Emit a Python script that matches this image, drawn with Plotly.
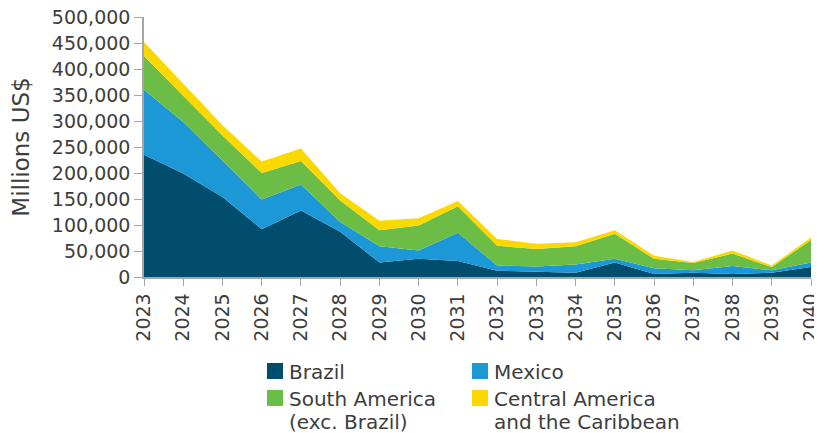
import plotly.graph_objects as go

years = list(range(2023, 2041))

brazil = [235000, 199000, 154000, 92000, 128000, 87000, 28000, 35000, 31000,
          12000, 10000, 8000, 28000, 6000, 8000, 6000, 8000, 19000]
mexico = [125000, 99000, 70000, 57000, 50000, 19000, 31000, 16000, 54000,
          10000, 10000, 16000, 7000, 11000, 5000, 15000, 5000, 9000]
south_america = [65000, 51000, 48000, 51000, 45000, 41000, 31000, 48000, 51000,
                 38000, 34000, 35000, 48000, 18000, 14000, 24000, 6000, 43000]
central_america = [27000, 22000, 20000, 22000, 24000, 14000, 18000, 14000, 10000,
                   13000, 10000, 8000, 7000, 6000, 2000, 6000, 3000, 5000]

names = ["Brazil", "Mexico", "South America<br>(exc. Brazil)",
         "Central America<br>and the Caribbean"]
colors = ["#004d6d", "#1b98d5", "#6cbd45", "#fad800"]
values = [brazil, mexico, south_america, central_america]

fig = go.Figure()
for name, vals, color in zip(names, values, colors):
    fig.add_trace(go.Scatter(
        x=years, y=vals, name=name,
        mode="lines", stackgroup="one",
        line=dict(width=0, color=color),
        fillcolor=color,
        showlegend=False,
    ))

# page body has an 8px margin, so the figure is drawn 8px smaller
OFF = 8
W, H = 822 - OFF, 433 - OFF
L, R, T, B = 144 - OFF, 11, 17 - OFF, 156
pw, ph = W - L - R, H - T - B


def px(x):
    return (x - OFF - L) / pw


def py(y):
    return (H - B - (y - OFF)) / ph


font_color = "#3d3d3d"
# hand-placed legend in a 2x2 grid below the chart (page pixel positions)
legend_cells = [(267, 363), (472, 363), (267, 390), (472, 390)]
for name, color, (lx, ty) in zip(names, colors, legend_cells):
    fig.add_shape(type="rect", xref="paper", yref="paper",
                  x0=px(lx), x1=px(lx + 16), y0=py(ty + 16), y1=py(ty),
                  fillcolor=color, line_width=0)
    for k, line in enumerate(name.split("<br>")):
        fig.add_annotation(text=line, xref="paper", yref="paper",
                           x=px(lx + 20), y=py(ty + 9 + 23 * k),
                           xanchor="left", yanchor="middle",
                           showarrow=False,
                           font=dict(size=20, color=font_color))

fig.update_layout(
    width=W, height=H,
    margin=dict(l=L, r=R, t=T, b=B),
    paper_bgcolor="white", plot_bgcolor="white",
    font=dict(family="DejaVu Sans", size=19, color=font_color),
    showlegend=False,
    xaxis=dict(
        range=[2023, 2040], tickmode="linear", tick0=2023, dtick=1,
        tickangle=-90, showgrid=False, zeroline=False, automargin=False,
        showline=True, linecolor="#a6a6a6", linewidth=1.5,
        ticks="outside", ticklen=7, tickcolor="#a6a6a6",
        ticklabeloverflow="allow",
    ),
    yaxis=dict(
        range=[0, 500000], tickmode="linear", dtick=50000,
        tickformat=",d", showgrid=False, zeroline=False, automargin=False,
        showline=True, linecolor="#a6a6a6", linewidth=1.5,
        ticks="outside", ticklen=8, tickcolor="#a6a6a6",
        ticklabeloverflow="allow",
        title=dict(text="Millions US$", standoff=22),
    ),
)

fig.write_html("out.html")
